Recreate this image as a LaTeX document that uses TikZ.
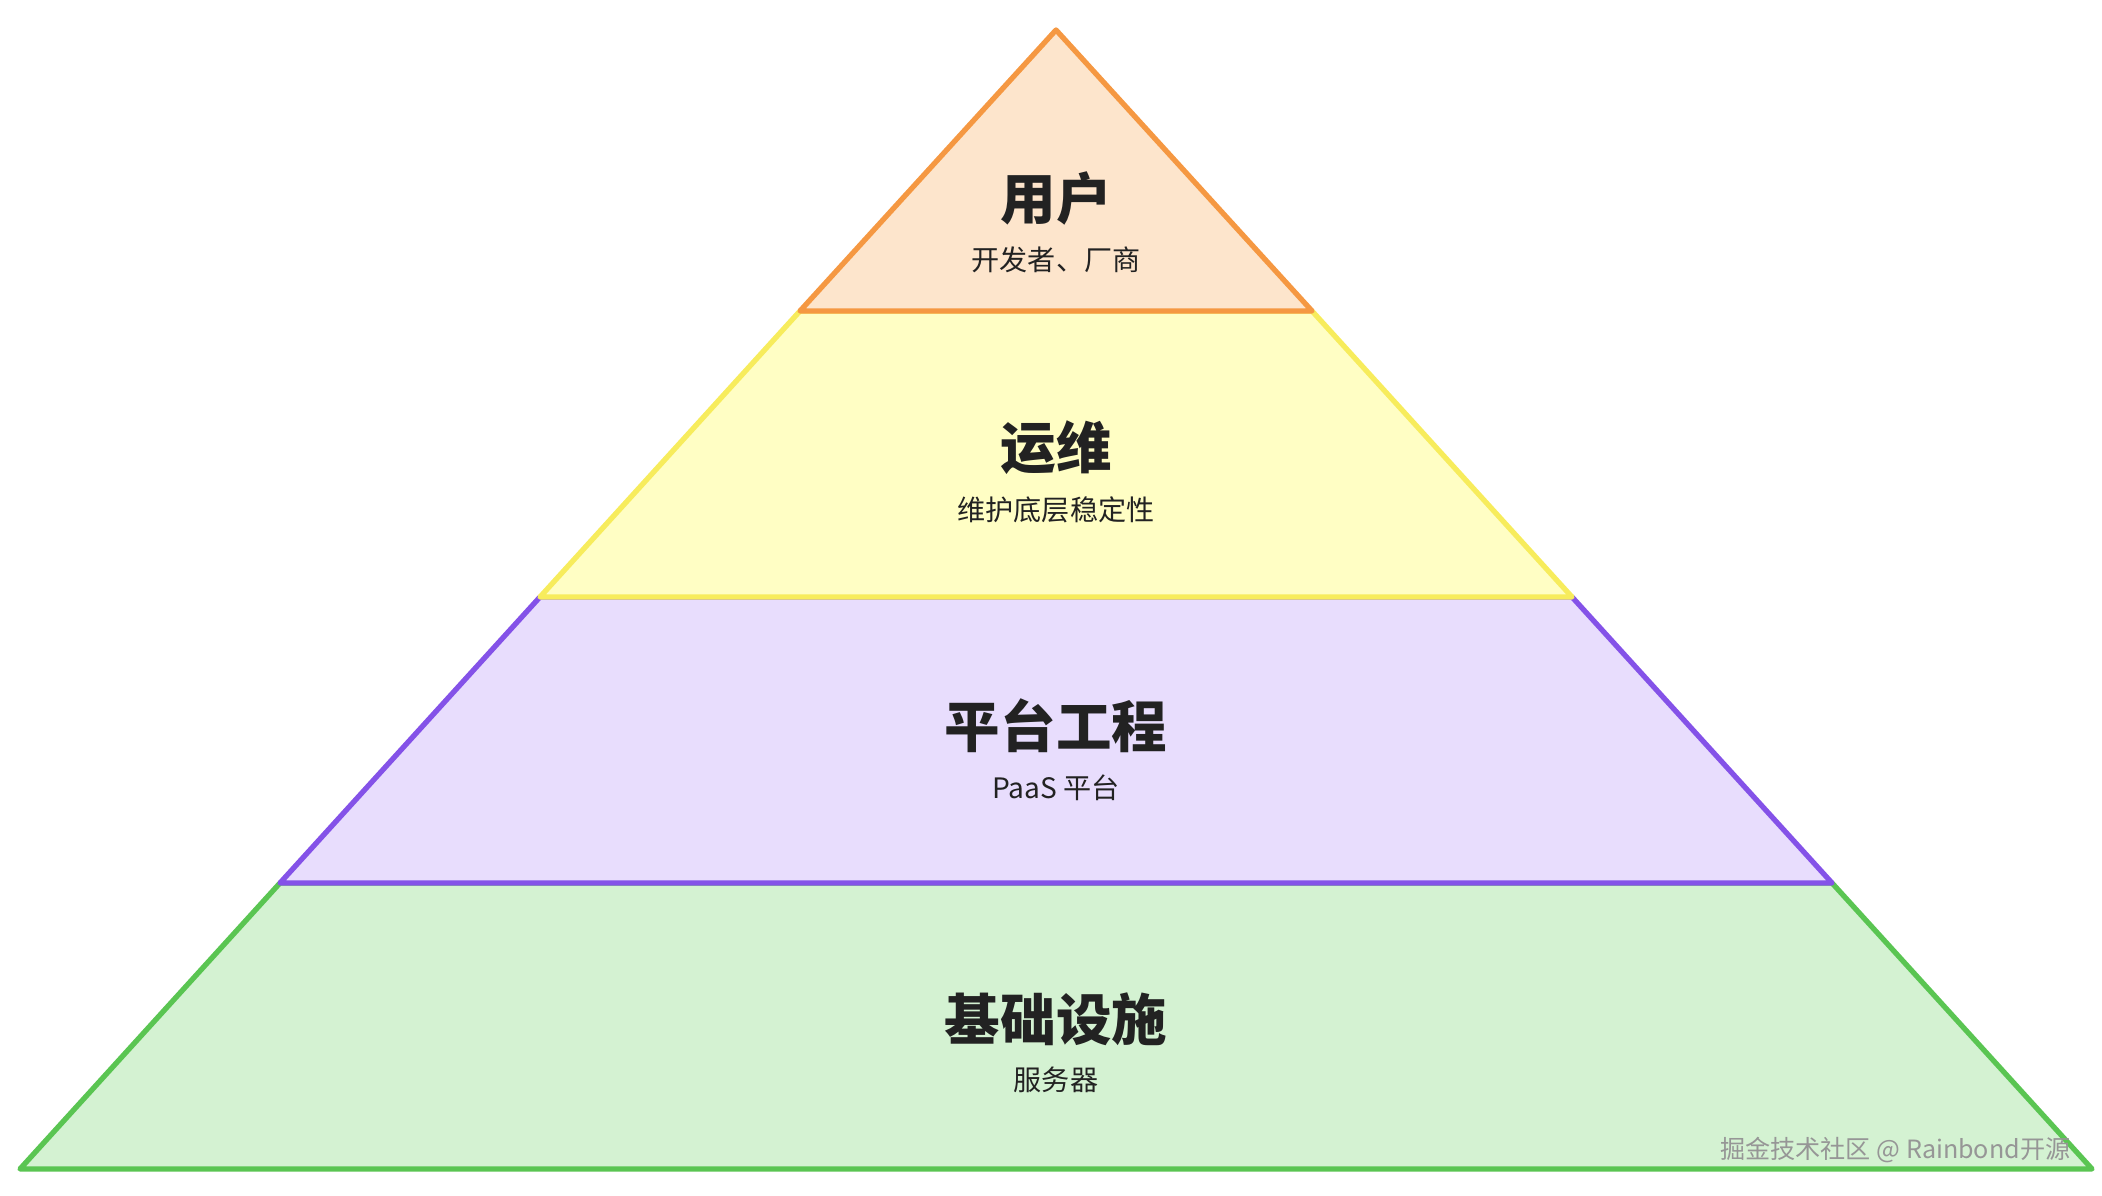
\documentclass[tikz,border=0pt]{standalone}
\usepackage{fontspec}
\usepackage{tikz}
\usetikzlibrary{positioning}
\newfontfamily\cjk{Noto Sans CJK SC}
\definecolor{ink}{RGB}{34,34,34}
\definecolor{orangeline}{RGB}{245,152,66}
\definecolor{orangefill}{RGB}{253,229,204}
\definecolor{yellowline}{RGB}{247,236,92}
\definecolor{yellowfill}{RGB}{255,254,196}
\definecolor{purpleline}{RGB}{132,82,232}
\definecolor{purplefill}{RGB}{232,221,253}
\definecolor{greenline}{RGB}{90,197,82}
\definecolor{greenfill}{RGB}{212,242,210}
\definecolor{mark}{RGB}{150,150,150}
\tikzset{
  layer/.style={line width=1.5pt,line join=round},
  orangelayer/.style={layer,draw=orangeline,fill=orangefill},
  yellowlayer/.style={layer,draw=yellowline,fill=yellowfill},
  purplelayer/.style={layer,draw=purpleline,fill=purplefill},
  greenlayer/.style={layer,draw=greenline,fill=greenfill},
  title/.style={inner sep=0pt,text=ink,font=\cjk\bfseries\fontsize{15.8pt}{17pt}\selectfont},
  sub/.style={inner sep=0pt,text=ink,font=\cjk\fontsize{8pt}{9pt}\selectfont}
}
\begin{document}
\begin{tikzpicture}[node distance=2mm]
  \useasboundingbox (0,0) rectangle (21.02,11.96);
  \coordinate (top) at (10.56,11.66);
  \coordinate (a1) at (8.00,8.85);  \coordinate (b1) at (13.12,8.85);
  \coordinate (a2) at (5.40,5.99);  \coordinate (b2) at (15.72,5.99);
  \coordinate (a3) at (2.80,3.13);  \coordinate (b3) at (18.32,3.13);
  \coordinate (a4) at (0.20,0.27);  \coordinate (b4) at (20.92,0.27);
  % bottom layer first, upper outlines cover shared edges
  \draw[greenlayer] (a3)--(b3)--(b4)--(a4)--cycle;
  \draw[purplelayer] (a2)--(b2)--(b3)--(a3)--cycle;
  \draw[yellowlayer] (a1)--(b1)--(b2)--(a2)--cycle;
  \draw[orangelayer] (top)--(b1)--(a1)--cycle;
  \node[title] (user) at (10.56,9.97) {用户};
  \node[sub,below=of user] (usersub) {开发者、厂商};
  \node[title] (ops) at (10.56,7.48) {运维};
  \node[sub,below=of ops] (opssub) {维护底层稳定性};
  \node[title] (platform) at (10.56,4.70) {平台工程};
  \node[sub,below=of platform] (platformsub) {PaaS 平台};
  \node[title] (infra) at (10.56,1.77) {基础设施};
  \node[sub,below=of infra] (infrasub) {服务器};
  \node[inner sep=0pt,anchor=east,text=mark,font=\cjk\fontsize{7.15pt}{8pt}\selectfont] (credit) at (20.71,0.46) {掘金技术社区 @ Rainbond开源};
\end{tikzpicture}
\end{document}
